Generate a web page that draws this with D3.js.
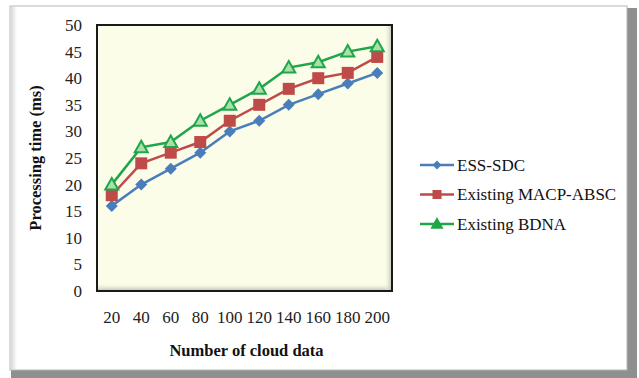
<!DOCTYPE html>
<html>
<head>
<meta charset="utf-8">
<script src="https://cdn.jsdelivr.net/npm/d3@7"></script>
<style>
  html, body { margin: 0; padding: 0; background: #ffffff; }
  svg { display: block; }
</style>
</head>
<body>
<svg id="chart" width="639" height="378"></svg>
<script>
// Processing time (ms) by number of cloud data
const categories = [20, 40, 60, 80, 100, 120, 140, 160, 180, 200];
const essSdc     = [16, 20, 23, 26, 30, 32, 35, 37, 39, 41];
const macpAbsc   = [18, 24, 26, 28, 32, 35, 38, 40, 41, 44];
const bdna       = [20, 27, 28, 32, 35, 38, 42, 43, 45, 46];
const yTicks     = [0, 5, 10, 15, 20, 25, 30, 35, 40, 45, 50];
const seriesNames = ["ESS-SDC", "Existing MACP-ABSC", "Existing BDNA"];

const series = [
  { name: seriesNames[0], values: essSdc,   color: "#4A7EBB", shape: "diamond" },
  { name: seriesNames[1], values: macpAbsc, color: "#BE4B48", shape: "square" },
  { name: seriesNames[2], values: bdna,     color: "#1FA64A", shape: "triangle" }
];

const FONT = "Liberation Serif, Times New Roman, serif";
const svg = d3.select("#chart");
const defs = svg.append("defs");

// Outer card with grey drop edge on right/bottom
svg.append("rect").attr("x", 11).attr("y", 8).attr("width", 626).attr("height", 370)
  .attr("fill", "#8f8f8f");
svg.append("rect").attr("x", 10).attr("y", 6).attr("width", 617).attr("height", 364)
  .attr("fill", "#ffffff").attr("stroke", "#b5b5b5").attr("stroke-width", 1);
const lg = defs.append("linearGradient").attr("id", "leftEdge");
lg.append("stop").attr("offset", "0%").attr("stop-color", "#d8d8d8");
lg.append("stop").attr("offset", "100%").attr("stop-color", "#ffffff");
svg.append("rect").attr("x", 11).attr("y", 7).attr("width", 6).attr("height", 362)
  .attr("fill", "url(#leftEdge)");

const plot = { left: 97, top: 25, right: 392, bottom: 291 };

const x = d3.scaleBand().domain(categories)
  .range([plot.left, plot.right]).paddingInner(0).paddingOuter(0);
const y = d3.scaleLinear().domain([0, 50]).range([plot.bottom, plot.top]);

// Plot background with soft inner shading along bottom/right
svg.append("rect").attr("x", plot.left).attr("y", plot.top)
  .attr("width", plot.right - plot.left).attr("height", plot.bottom - plot.top)
  .attr("fill", "#fbfde9");
const gb = defs.append("linearGradient").attr("id", "bottomShade")
  .attr("x1", 0).attr("y1", 0).attr("x2", 0).attr("y2", 1);
gb.append("stop").attr("offset", "0%").attr("stop-color", "#fbfde9").attr("stop-opacity", 0);
gb.append("stop").attr("offset", "100%").attr("stop-color", "#b9bcae").attr("stop-opacity", 1);
svg.append("rect").attr("x", plot.left).attr("y", plot.bottom - 8)
  .attr("width", plot.right - plot.left).attr("height", 8).attr("fill", "url(#bottomShade)");
const gr = defs.append("linearGradient").attr("id", "rightShade");
gr.append("stop").attr("offset", "0%").attr("stop-color", "#fbfde9").attr("stop-opacity", 0);
gr.append("stop").attr("offset", "100%").attr("stop-color", "#b9bcae").attr("stop-opacity", 1);
svg.append("rect").attr("x", plot.right - 8).attr("y", plot.top)
  .attr("width", 8).attr("height", plot.bottom - plot.top).attr("fill", "url(#rightShade)");
svg.append("rect").attr("x", plot.left).attr("y", plot.top)
  .attr("width", plot.right - plot.left).attr("height", plot.bottom - plot.top)
  .attr("fill", "none").attr("stroke", "#1a1a1a").attr("stroke-width", 2);

// Y axis labels
const yAxis = d3.axisLeft(y).tickValues(yTicks).tickSize(0).tickPadding(15);
svg.append("g").attr("transform", `translate(${plot.left},0)`).call(yAxis)
  .call(g => g.select(".domain").remove())
  .selectAll("text")
  .attr("font-family", FONT).attr("font-size", 17).attr("fill", "#222");

// X axis labels
const xAxis = d3.axisBottom(x).tickSize(0).tickPadding(20);
svg.append("g").attr("transform", `translate(0,${plot.bottom})`).call(xAxis)
  .call(g => g.select(".domain").remove())
  .selectAll("text")
  .attr("font-family", FONT).attr("font-size", 17).attr("fill", "#222");

// Axis titles
svg.append("text").attr("x", (plot.left + plot.right) / 2 + 2).attr("y", 356)
  .attr("text-anchor", "middle")
  .attr("font-family", FONT).attr("font-size", 16.5).attr("font-weight", "bold").attr("fill", "#111")
  .text("Number of cloud data");
svg.append("text")
  .attr("transform", `translate(41,${(plot.top + plot.bottom) / 2}) rotate(-90)`)
  .attr("text-anchor", "middle")
  .attr("font-family", FONT).attr("font-size", 16.5).attr("font-weight", "bold").attr("fill", "#111")
  .text("Processing time (ms)");

function marker(sel, shape, color, small) {
  const k = small ? 0.75 : 1;
  if (shape === "diamond") {
    sel.append("path").attr("d", `M0,${-6 * k}L${6 * k},0L0,${6 * k}L${-6 * k},0Z`).attr("fill", color);
  } else if (shape === "square") {
    sel.append("rect").attr("x", -6 * k).attr("y", -6 * k).attr("width", 12 * k).attr("height", 12 * k)
      .attr("fill", color);
  } else {
    sel.append("path").attr("d", `M0,${-6.5 * k}L${6.5 * k},${5 * k}L${-6.5 * k},${5 * k}Z`)
      .attr("fill", small ? color : "#a8e0a8").attr("stroke", color).attr("stroke-width", 2);
  }
}

const line = d3.line()
  .x((d, i) => x(categories[i]) + x.bandwidth() / 2)
  .y(d => y(d));

series.forEach(s => {
  svg.append("path").datum(s.values).attr("d", line)
    .attr("fill", "none").attr("stroke", s.color).attr("stroke-width", 2.5);
  s.values.forEach((v, i) => {
    const g = svg.append("g")
      .attr("transform", `translate(${x(categories[i]) + x.bandwidth() / 2},${y(v)})`);
    marker(g, s.shape, s.color, false);
  });
});

// Legend
const legend = svg.append("g");
series.forEach((s, i) => {
  const ly = 165 + i * 29.5;
  legend.append("line").attr("x1", 420).attr("x2", 454).attr("y1", ly).attr("y2", ly)
    .attr("stroke", s.color).attr("stroke-width", 2.5);
  const g = legend.append("g").attr("transform", `translate(437,${ly})`);
  marker(g, s.shape, s.color, true);
  legend.append("text").attr("x", 457).attr("y", ly + 5.5)
    .attr("font-family", FONT).attr("font-size", 17).attr("fill", "#111").text(s.name);
});
</script>
</body>
</html>
